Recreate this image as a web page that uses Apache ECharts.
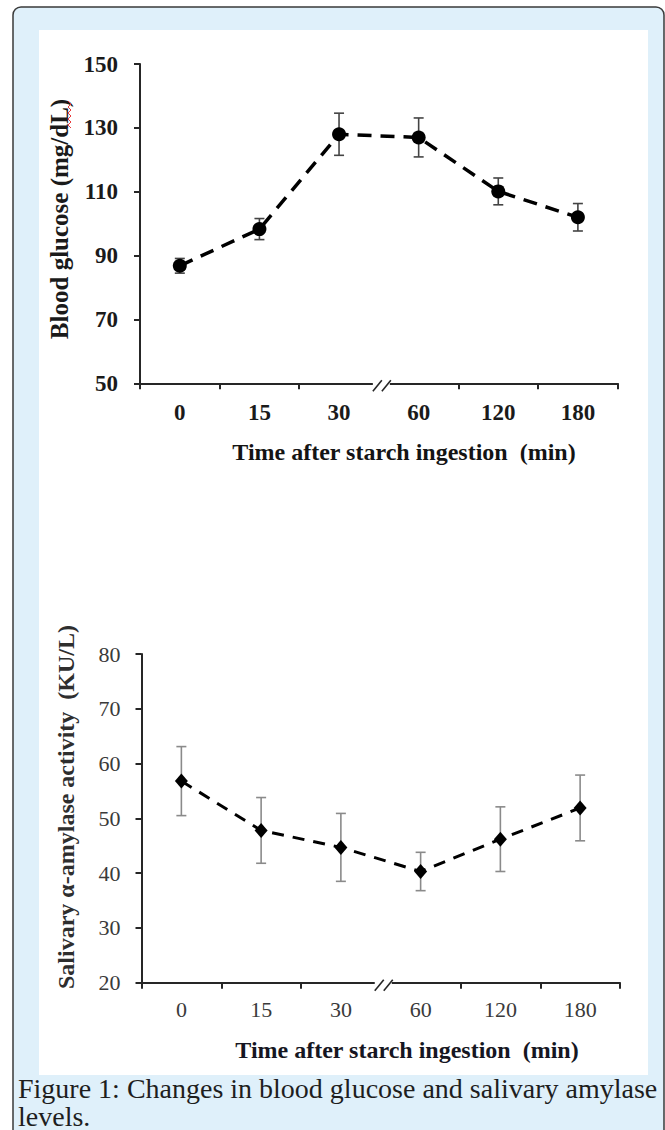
<!DOCTYPE html>
<html>
<head>
<meta charset="utf-8">
<script src="https://cdn.jsdelivr.net/npm/echarts@6.0.0/dist/echarts.min.js"></script>
<style>
html,body{margin:0;padding:0;background:#fff;}
#c{width:665px;height:1130px;}
</style>
</head>
<body>
<div id="c"></div>
<script>
// ---- data ----
const categories = ['0', '15', '30', '60', '120', '180'];
const glucoseMean = [86.8, 98.3, 128.0, 127.0, 110.1, 102.0];
const glucoseErr  = [2.3, 3.3, 6.6, 6.1, 4.2, 4.3];
const amylaseMean = [56.8, 47.8, 44.7, 40.3, 46.2, 51.9];
const amylaseErr  = [6.3, 6.0, 6.2, 3.5, 5.9, 6.0];
const glucoseAxis = { min: 50, max: 150, interval: 20 };
const amylaseAxis = { min: 20, max: 80, interval: 10 };
const xTitle = 'Time after starch ingestion  (min)';
const yTitleTop = 'Blood glucose (mg/dL)';
const yTitleBottom = 'Salivary \u03B1-amylase activity  (KU/L)';
const captionLine1 = 'Figure 1: Changes in blood glucose and salivary amylase';
const captionLine2 = 'levels.';

const SERIF = "'Liberation Serif', 'Times New Roman', serif";

function errData(mean, err) {
  return mean.map((m, i) => [i, m - err[i], m + err[i]]);
}
function errRender(color, width, half) {
  return function (params, api) {
    const lo = api.coord([api.value(0), api.value(1)]);
    const hi = api.coord([api.value(0), api.value(2)]);
    const st = { stroke: color, lineWidth: width };
    return {
      type: 'group',
      children: [
        { type: 'line', shape: { x1: hi[0], y1: hi[1], x2: lo[0], y2: lo[1] }, style: st },
        { type: 'line', shape: { x1: hi[0] - half, y1: hi[1], x2: hi[0] + half, y2: hi[1] }, style: st },
        { type: 'line', shape: { x1: lo[0] - half, y1: lo[1], x2: lo[0] + half, y2: lo[1] }, style: st }
      ]
    };
  };
}

const chart = echarts.init(document.getElementById('c'), null, { renderer: 'svg', width: 665, height: 1130 });

function baseGraphics() {
  return [
    { id: 'panel', type: 'rect', z: -20, shape: { x: 13, y: 7, width: 651, height: 1140, r: [8, 8, 0, 0] },
      style: { fill: '#dff0fa', stroke: '#3a3a3a', lineWidth: 1.5 } },
    { id: 'inner', type: 'rect', z: -19, shape: { x: 39, y: 30, width: 609, height: 1045 },
      style: { fill: '#ffffff' } },
    { id: 'ytTop', type: 'text', x: 59, y: 219, rotation: Math.PI / 2, z: 5,
      style: { text: yTitleTop, font: 'bold 25px ' + SERIF, fill: '#1a1a1a', textAlign: 'center', textVerticalAlign: 'middle' } },
    { id: 'wavy', type: 'polyline', z: 6,
      shape: { points: [[68,101],[71,104],[68,107],[71,110],[68,113],[71,116],[68,119],[71,122],[68,125],[71,128]] },
      style: { stroke: '#e83a3a', lineWidth: 1, fill: null } },
    { id: 'xtTop', type: 'text', x: 404, y: 452, z: 5,
      style: { text: xTitle, font: 'bold 24px ' + SERIF, fill: '#141414', textAlign: 'center', textVerticalAlign: 'middle' } },
    { id: 'ytBot', type: 'text', x: 66, y: 807, rotation: Math.PI / 2, z: 5,
      style: { text: yTitleBottom, font: 'bold 24px ' + SERIF, fill: '#2e2e2e', textAlign: 'center', textVerticalAlign: 'middle' } },
    { id: 'xtBot', type: 'text', x: 407, y: 1050, z: 5,
      style: { text: xTitle, font: 'bold 24px ' + SERIF, fill: '#161622', textAlign: 'center', textVerticalAlign: 'middle' } },
    { id: 'caption1', type: 'text', x: 18, y: 1074, z: 5,
      style: { text: captionLine1, font: '28px ' + SERIF, fill: '#1e1e1e', textAlign: 'left', textVerticalAlign: 'top' } },
    { id: 'caption2', type: 'text', x: 18, y: 1102, z: 5,
      style: { text: captionLine2, font: '28px ' + SERIF, fill: '#1e1e1e', textAlign: 'left', textVerticalAlign: 'top' } }
  ];
}

const axisLineTop = { show: true, lineStyle: { color: '#262626', width: 2 } };
const axisLineBot = { show: true, lineStyle: { color: '#262626', width: 2 } };

const option = {
  animation: false,
  backgroundColor: '#ffffff',
  grid: [
    { left: 140, top: 64, width: 477.7, height: 319.3, outerBoundsMode: 'none' },
    { left: 141.5, top: 654, width: 478.5, height: 328.7, outerBoundsMode: 'none' }
  ],
  xAxis: [
    { gridIndex: 0, type: 'category', data: categories, boundaryGap: true,
      axisLine: axisLineTop,
      axisTick: { show: true, length: 6, lineStyle: { color: '#262626', width: 2 } },
      axisLabel: { margin: 18, fontFamily: SERIF, fontWeight: 'bold', fontSize: 23, color: '#1a1a1a' },
      splitLine: { show: false } },
    { gridIndex: 1, type: 'category', data: categories, boundaryGap: true,
      axisLine: axisLineBot,
      axisTick: { show: true, length: 6, lineStyle: { color: '#262626', width: 2 } },
      axisLabel: { margin: 16, fontFamily: SERIF, fontWeight: 'normal', fontSize: 22, color: '#3a3a3a' },
      splitLine: { show: false } }
  ],
  yAxis: [
    { gridIndex: 0, type: 'value', min: glucoseAxis.min, max: glucoseAxis.max, interval: glucoseAxis.interval,
      axisLine: axisLineTop,
      axisTick: { show: true, length: 6, lineStyle: { color: '#262626', width: 2 } },
      axisLabel: { margin: 22, fontFamily: SERIF, fontWeight: 'bold', fontSize: 23, color: '#1a1a1a' },
      splitLine: { show: false } },
    { gridIndex: 1, type: 'value', min: amylaseAxis.min, max: amylaseAxis.max, interval: amylaseAxis.interval,
      axisLine: axisLineBot,
      axisTick: { show: true, length: 6, lineStyle: { color: '#262626', width: 2 } },
      axisLabel: { margin: 21, fontFamily: SERIF, fontWeight: 'normal', fontSize: 22, color: '#3a3a3a' },
      splitLine: { show: false } }
  ],
  series: [
    { type: 'custom', xAxisIndex: 0, yAxisIndex: 0, z: 2, silent: true,
      renderItem: errRender('#444444', 1.6, 5), data: errData(glucoseMean, glucoseErr) },
    { type: 'line', xAxisIndex: 0, yAxisIndex: 0, z: 3, data: glucoseMean,
      symbol: 'circle', symbolSize: 14, itemStyle: { color: '#000000' },
      lineStyle: { color: '#000000', width: 3.5, type: [14, 9] } },
    { type: 'custom', xAxisIndex: 1, yAxisIndex: 1, z: 2, silent: true,
      renderItem: errRender('#8a8a8a', 1.6, 5), data: errData(amylaseMean, amylaseErr) },
    { type: 'line', xAxisIndex: 1, yAxisIndex: 1, z: 3, data: amylaseMean,
      symbol: 'diamond', symbolSize: [13, 15], itemStyle: { color: '#000000' },
      lineStyle: { color: '#000000', width: 3, type: [12, 9] } }
  ],
  graphic: baseGraphics()
};
chart.setOption(option);

// axis-break marks at the boundary between the "30" and "60" categories
function breakMarks(xi, yi, idp) {
  const a = chart.convertToPixel({ xAxisIndex: xi }, 2);
  const b = chart.convertToPixel({ xAxisIndex: xi }, 3);
  const bx = (a + b) / 2;
  const ay = chart.convertToPixel({ yAxisIndex: yi }, xi === 0 ? glucoseAxis.min : amylaseAxis.min);
  const st = { stroke: '#262626', lineWidth: 1.6 };
  return [
    { id: idp + 'cover', type: 'rect', z: 50, shape: { x: bx - 6, y: ay - 3, width: 17, height: 11 }, style: { fill: '#ffffff' } },
    { id: idp + 's1', type: 'line', z: 51, shape: { x1: bx - 6, y1: ay + 8, x2: bx + 3, y2: ay - 3 }, style: st },
    { id: idp + 's2', type: 'line', z: 51, shape: { x1: bx + 3, y1: ay + 8, x2: bx + 12, y2: ay - 3 }, style: st }
  ];
}
const g = baseGraphics().concat(breakMarks(0, 0, 'bt'), breakMarks(1, 1, 'bb'));
chart.setOption({ graphic: g });
</script>
</body>
</html>
